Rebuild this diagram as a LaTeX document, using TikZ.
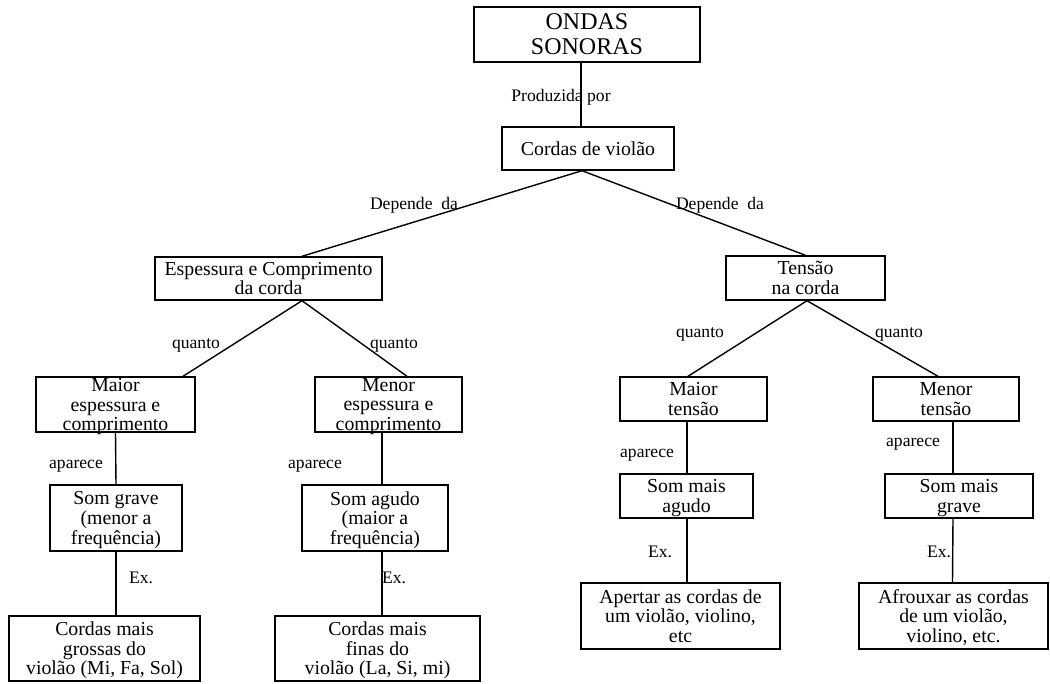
\documentclass[tikz,border=0pt]{standalone}
\usepackage{fontspec}
\setmainfont{Liberation Serif}
\usetikzlibrary{positioning}

\begin{document}
\begin{tikzpicture}[x=0.5pt, y=-0.5pt,
    concept/.style={draw, line width=0.7pt, align=center, inner sep=0pt,
      text depth=0pt, font=\fontsize{9.9}{9.8}\selectfont},
    link/.style={line width=0.7pt},
    tag/.style={inner sep=0pt, font=\fontsize{8.8}{10}\selectfont}]
  \useasboundingbox (0,0) rectangle (1050,684);
  % top concepts
  \node[concept, minimum width=113pt, minimum height=27.5pt,
        font=\fontsize{12}{12.5}\selectfont] (ondas) at (587,34.5) {ONDAS\\SONORAS};
  \node[concept, minimum width=86pt, minimum height=21.5pt] (cordas) at (588,148.5) {Cordas de violão};
  \node[concept, minimum width=113.5pt, minimum height=21.5pt] (espes) at (268.5,278.5) {Espessura e Comprimento\\da corda};
  \node[concept, minimum width=79.5pt, minimum height=22pt] (tensao) at (805.5,278) {Tensão\\na corda};
  % second level
  \node[concept, minimum width=79.5pt, minimum height=27.5pt] (maiorE) at (115.5,404.5) {Maior\\espessura e\\comprimento};
  \node[concept, minimum width=73.5pt, minimum height=27.5pt] (menorE) at (388.5,404.5) {Menor\\espessura e\\comprimento};
  \node[concept, minimum width=73.5pt, minimum height=22pt] (maiorT) at (693.5,399) {Maior\\tensão};
  \node[concept, minimum width=73pt, minimum height=22pt] (menorT) at (946,399) {Menor\\tensão};
  % sounds
  \node[concept, minimum width=66pt, minimum height=33pt] (grave) at (116,518) {Som grave\\(menor a\\frequência)};
  \node[concept, minimum width=73pt, minimum height=33pt] (agudo) at (375,518) {Som agudo\\(maior a\\frequência)};
  \node[concept, minimum width=66.5pt, minimum height=22pt] (maisAgudo) at (686.5,496) {Som mais\\agudo};
  \node[concept, minimum width=74pt, minimum height=22pt] (maisGrave) at (959,496) {Som mais\\grave};
  % examples
  \node[concept, minimum width=95.5pt, minimum height=32.5pt] (grossas) at (104.5,648.5) {Cordas mais\\grossas do\\violão (Mi, Fa, Sol)};
  \node[concept, minimum width=102.5pt, minimum height=32.5pt] (finas) at (377.5,648.5) {Cordas mais\\finas do\\violão (La, Si, mi)};
  \node[concept, minimum width=99.5pt, minimum height=33pt] (apertar) at (680.5,616) {Apertar as cordas de\\um violão, violino,\\etc};
  \node[concept, minimum width=94.5pt, minimum height=33pt] (afrouxar) at (953.5,616) {Afrouxar as cordas\\de um violão,\\violino, etc.};
  % connectors
  \draw[link] ([xshift=-3pt]ondas.south) -- ([xshift=-3.5pt]cordas.north);
  \draw[link] ([xshift=-3pt]cordas.south) -- ([xshift=16.75pt]espes.north);
  \draw[link] ([xshift=-3pt]cordas.south) -- (tensao.north);
  \draw[link] ([xshift=16.75pt]espes.south) -- ([xshift=33.75pt]maiorE.north);
  \draw[link] ([xshift=16.75pt]espes.south) -- ([xshift=9.25pt]menorE.north);
  \draw[link] ([xshift=0.75pt]tensao.south) -- ([xshift=-2.75pt]maiorT.north);
  \draw[link] ([xshift=0.75pt]tensao.south) -- ([xshift=-4pt]menorT.north);
  \draw[link] (maiorE.south) -- (grave.north);
  \draw[link] ([xshift=-3.25pt]menorE.south) -- ([xshift=3.5pt]agudo.north);
  \draw[link] ([xshift=-3.25pt]maiorT.south) -- ([xshift=0.25pt]maisAgudo.north);
  \draw[link] ([xshift=3.5pt]menorT.south) -- ([xshift=-3pt]maisGrave.north);
  \draw[link] (grave.south) -- ([xshift=5.75pt]grossas.north);
  \draw[link] ([xshift=3.5pt]agudo.south) -- ([xshift=2.25pt]finas.north);
  \draw[link] ([xshift=0.25pt]maisAgudo.south) -- ([xshift=3.25pt]apertar.north);
  \draw[link] ([xshift=-3pt]maisGrave.south) -- ([xshift=-0.5pt]afrouxar.north);
  % link labels
  \node[tag] (lProd) at (561,97) {Produzida por};
  \node[tag] (lDepL) at (414,205) {Depende~ da};
  \node[tag] (lDepR) at (720,205) {Depende~ da};
  \node[tag] (lQuaA) at (196,345) {quanto};
  \node[tag] (lQuaB) at (394,345) {quanto};
  \node[tag] (lQuaC) at (700,334) {quanto};
  \node[tag] (lQuaD) at (899,334) {quanto};
  \node[tag] (lApaA) at (76,466) {aparece};
  \node[tag] (lApaB) at (315,466) {aparece};
  \node[tag] (lApaC) at (647,455) {aparece};
  \node[tag] (lApaD) at (913,444) {aparece};
  \node[tag] (lExA) at (141,578) {Ex.};
  \node[tag] (lExB) at (394,578) {Ex.};
  \node[tag] (lExC) at (660,552) {Ex.};
  \node[tag] (lExD) at (939,552) {Ex.};
\end{tikzpicture}
\end{document}
